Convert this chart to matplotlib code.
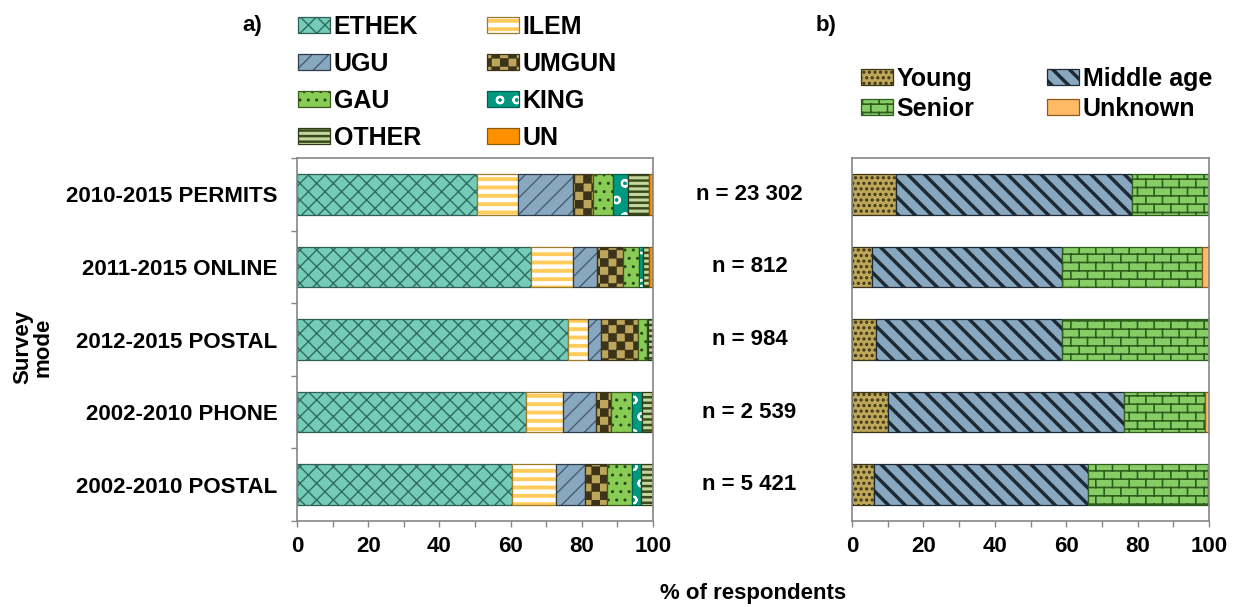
import warnings
warnings.filterwarnings('ignore')
import numpy as np
import matplotlib
matplotlib.use('Agg')
import matplotlib.pyplot as plt
import matplotlib.patches as mpatches
import matplotlib.hatch as mhatch
import matplotlib.transforms as mtransforms
from matplotlib.path import Path
from matplotlib.legend_handler import HandlerTuple

# ---------------- data ----------------
categories = ['2010-2015 PERMITS', '2011-2015 ONLINE', '2012-2015 POSTAL',
              '2002-2010 PHONE', '2002-2010 POSTAL']
n_labels = ['n = 23 302', 'n = 812', 'n = 984', 'n = 2 539', 'n = 5 421']

regions = ['ETHEK', 'ILEM', 'UGU', 'UMGUN', 'GAU', 'KING', 'OTHER', 'UN']
ethek = [50.7, 65.8, 76.1, 64.4, 60.4]
ilem = [11.3, 11.6, 5.7, 10.4, 12.4]
ugu = [15.4, 6.8, 3.7, 9.3, 8.0]
umgun = [5.8, 7.3, 10.2, 4.1, 6.4]
gau = [5.5, 4.5, 2.6, 5.8, 7.0]
king = [4.2, 1.3, 0.3, 3.0, 2.3]
other = [6.1, 1.5, 1.4, 2.8, 3.5]
un = [1.0, 1.2, 0.0, 0.2, 0.0]

ages = ['Young', 'Middle age', 'Senior', 'Unknown']
young = [12.2, 5.5, 6.8, 10.1, 6.2]
middle = [66.3, 53.3, 52.0, 66.1, 59.9]
senior = [21.5, 39.2, 41.2, 22.8, 33.6]
unknown = [0.0, 2.0, 0.0, 1.0, 0.3]

x_ticks = [0, 20, 40, 60, 80, 100]


# ---------------- custom hatches ----------------
class CheckerHatch(mhatch.HatchPatternBase):
    def __init__(self, hatch, density):
        self.n = int(hatch.count('c') * density)
        self.cells = []
        if self.n:
            self.cells = [(i, j) for i in range(self.n) for j in range(self.n)
                          if (i + j) % 2 == 0]
        self.num_vertices = 5 * len(self.cells)

    def set_vertices_and_codes(self, vertices, codes):
        s = 1.0 / self.n
        for k, (i, j) in enumerate(self.cells):
            x0, y0 = i * s, j * s
            vertices[5 * k:5 * k + 5] = [(x0, y0), (x0 + s, y0), (x0 + s, y0 + s),
                                         (x0, y0 + s), (x0, y0)]
            codes[5 * k:5 * k + 5] = [Path.MOVETO, Path.LINETO, Path.LINETO,
                                      Path.LINETO, Path.CLOSEPOLY]


class BrickHatch(mhatch.HatchPatternBase):
    def __init__(self, hatch, density):
        n = int(hatch.count('b') * density)
        if n % 2:
            n += 1
        self.segs = []
        if n:
            h = 1.0 / n
            w = 2.0 / n
            m = n // 2
            for j in range(n):
                y = (j + 0.5) * h
                self.segs.append(((0.0, y), (1.0, y)))
            for j in range(n):
                y0 = (j + 0.5) * h
                y1 = y0 + h
                off = 0.25 * w + 0.5 * w * (j % 2)
                for i in range(m):
                    x = off + i * w
                    if y1 <= 1.0 + 1e-9:
                        self.segs.append(((x, y0), (x, y1)))
                    else:
                        self.segs.append(((x, y0), (x, 1.0)))
                        self.segs.append(((x, 0.0), (x, y1 - 1.0)))
        self.num_vertices = 2 * len(self.segs)

    def set_vertices_and_codes(self, vertices, codes):
        for k, (a, b) in enumerate(self.segs):
            vertices[2 * k] = a
            vertices[2 * k + 1] = b
            codes[2 * k] = Path.MOVETO
            codes[2 * k + 1] = Path.LINETO


mhatch._hatch_types.append(CheckerHatch)
mhatch._hatch_types.append(BrickHatch)

# ---------------- styles ----------------
plt.rcParams['font.family'] = ['Liberation Sans', 'DejaVu Sans']
plt.rcParams['font.weight'] = 'bold'

region_styles = [
    dict(fc='#74CBB8', hc='#2F6B5F', ec='#2F5F55', hatch='xx', hlw=1.0),
    dict(fc='#FFFFFF', hc='#FFCC5C', ec='#9C7A2A', hatch='--', hlw=2.8),
    dict(fc='#88A8BF', hc='#46566A', ec='#2E3B48', hatch='//', hlw=0.9),
    dict(fc='#BDA55B', hc='#3B3418', ec='#3B3418', hatch='cc', hlw=0.3),
    dict(fc='#88CC55', hc='#2C4414', ec='#3A5A1E', hatch='..', hlw=1.0),
    dict(fc='#00997F', hc='#FFFFFF', ec='#005F4F', hatch='o', hlw=1.5),
    dict(fc='#C3D69B', hc='#3B4A1E', ec='#2F3A18', hatch='---', hlw=1.8),
    dict(fc='#FF9100', hc='#FF9100', ec='#8B5A00', hatch=None, hlw=1.0),
]
age_styles = [
    dict(fc='#BFA75A', hc='#3D3518', ec='#3D3518', hatch='...', hlw=1.5),
    dict(fc='#88A8BF', hc='#1E2A33', ec='#1E2A33', hatch='\\\\', hlw=2.5),
    dict(fc='#88CC66', hc='#2E5E1E', ec='#2E5E1E', hatch='bb', hlw=1.2),
    dict(fc='#FFBB66', hc='#FFBB66', ec='#8B5A20', hatch=None, hlw=1.0),
]
HLW = {st['hatch']: st['hlw'] for st in region_styles + age_styles if st['hatch']}

SPINE = '#868686'
FS = 16
BAR_H = 0.56

fig = plt.figure(figsize=(12.38, 6.07), dpi=100)
W, H = 1238.0, 607.0
ax_a = fig.add_axes([297 / W, 1 - 521 / H, 356 / W, 363 / H])
ax_b = fig.add_axes([852 / W, 1 - 521 / H, 357 / W, 363 / H])

y = np.arange(len(categories))


def stacked(ax, series, styles):
    left = np.zeros(len(y))
    for vals, st in zip(series, styles):
        vals = np.asarray(vals, dtype=float)
        mask = vals > 0
        with plt.rc_context({'hatch.linewidth': st['hlw']}):
            ax.barh(y[mask], vals[mask], left=left[mask], height=BAR_H,
                    color=st['fc'], edgecolor=st['hc'], hatch=st['hatch'],
                    linewidth=0)
        ax.barh(y[mask], vals[mask], left=left[mask], height=BAR_H,
                fill=False, edgecolor=st['ec'], linewidth=0.9)
        left += vals


stacked(ax_a, [ethek, ilem, ugu, umgun, gau, king, other, un], region_styles)
stacked(ax_b, [young, middle, senior, unknown], age_styles)

for ax in (ax_a, ax_b):
    ax.set_xlim(0, 100)
    ax.set_ylim(len(categories) - 0.5, -0.5)
    for sp in ax.spines.values():
        sp.set_color(SPINE)
        sp.set_linewidth(1.2)
    ax.set_xticks(x_ticks)
    ax.set_xticks(np.arange(0, 101, 10), minor=True)
    ax.tick_params(axis='x', which='both', direction='out', length=4, width=1,
                   color=SPINE, labelsize=FS, pad=7)
    ax.tick_params(axis='x', which='minor', labelbottom=False)

ax_a.set_yticks(y)
ax_a.set_yticklabels(categories)
ax_a.set_yticks(np.arange(-0.5, len(categories), 1.0), minor=True)
ax_a.tick_params(axis='y', which='major', length=0, labelsize=FS, pad=14)
ax_a.tick_params(axis='y', which='minor', length=4, width=1, color=SPINE,
                 direction='out')
ax_b.set_yticks([])

# n labels
trans = mtransforms.blended_transform_factory(fig.transFigure, ax_a.transData)
for i, lab in enumerate(n_labels):
    ax_a.text(749.5 / W, i, lab, transform=trans, ha='center', va='center',
              fontsize=FS, fontweight='bold')


# legends (entries reordered so that the 2-column legend reads row by row)
def make_handles(styles):
    hs = []
    for st in styles:
        p1 = mpatches.Patch(facecolor=st['fc'], edgecolor=st['hc'],
                            hatch=st['hatch'], linewidth=0)
        p2 = mpatches.Patch(fill=False, edgecolor=st['ec'], linewidth=0.9)
        hs.append((p1, p2))
    return hs


def row_major(items, ncol):
    return [items[i] for c in range(ncol) for i in range(c, len(items), ncol)]


ha_ = make_handles(region_styles)
leg_a = fig.legend(row_major(ha_, 2), row_major(regions, 2), ncol=2,
                   loc='upper left', bbox_to_anchor=(298 / W, 1 - 15 / H),
                   frameon=False, fontsize=18, borderpad=0, borderaxespad=0,
                   handlelength=1.28, handleheight=0.64, handletextpad=0.15,
                   labelspacing=0.52, columnspacing=2.62,
                   handler_map={tuple: HandlerTuple(ndivide=1, pad=0)})
hb_ = make_handles(age_styles)
leg_b = fig.legend(row_major(hb_, 2), row_major(ages, 2), ncol=2,
                   loc='upper left', bbox_to_anchor=(861 / W, 1 - 67 / H),
                   frameon=False, fontsize=18, borderpad=0, borderaxespad=0,
                   handlelength=1.28, handleheight=0.64, handletextpad=0.15,
                   labelspacing=0.24, columnspacing=2.9,
                   handler_map={tuple: HandlerTuple(ndivide=1, pad=0)})

for p in fig.findobj(mpatches.Patch):
    h = p.get_hatch()
    if h in HLW and hasattr(p, 'set_hatch_linewidth'):
        p.set_hatch_linewidth(HLW[h])

# panel letters and axis titles
fig.text(252 / W, 1 - 25 / H, 'a)', ha='center', va='center', fontsize=FS,
         fontweight='bold')
fig.text(826 / W, 1 - 25 / H, 'b)', ha='center', va='center', fontsize=FS,
         fontweight='bold')
fig.text(753 / W, 1 - 594 / H, '% of respondents', ha='center', va='center',
         fontsize=FS, fontweight='bold')
fig.text(33 / W, 1 - 347 / H, 'Survey\nmode', ha='center', va='center',
         rotation=90, fontsize=FS, fontweight='bold', linespacing=1.0)

fig.savefig('out.png', dpi=100, facecolor='white')
